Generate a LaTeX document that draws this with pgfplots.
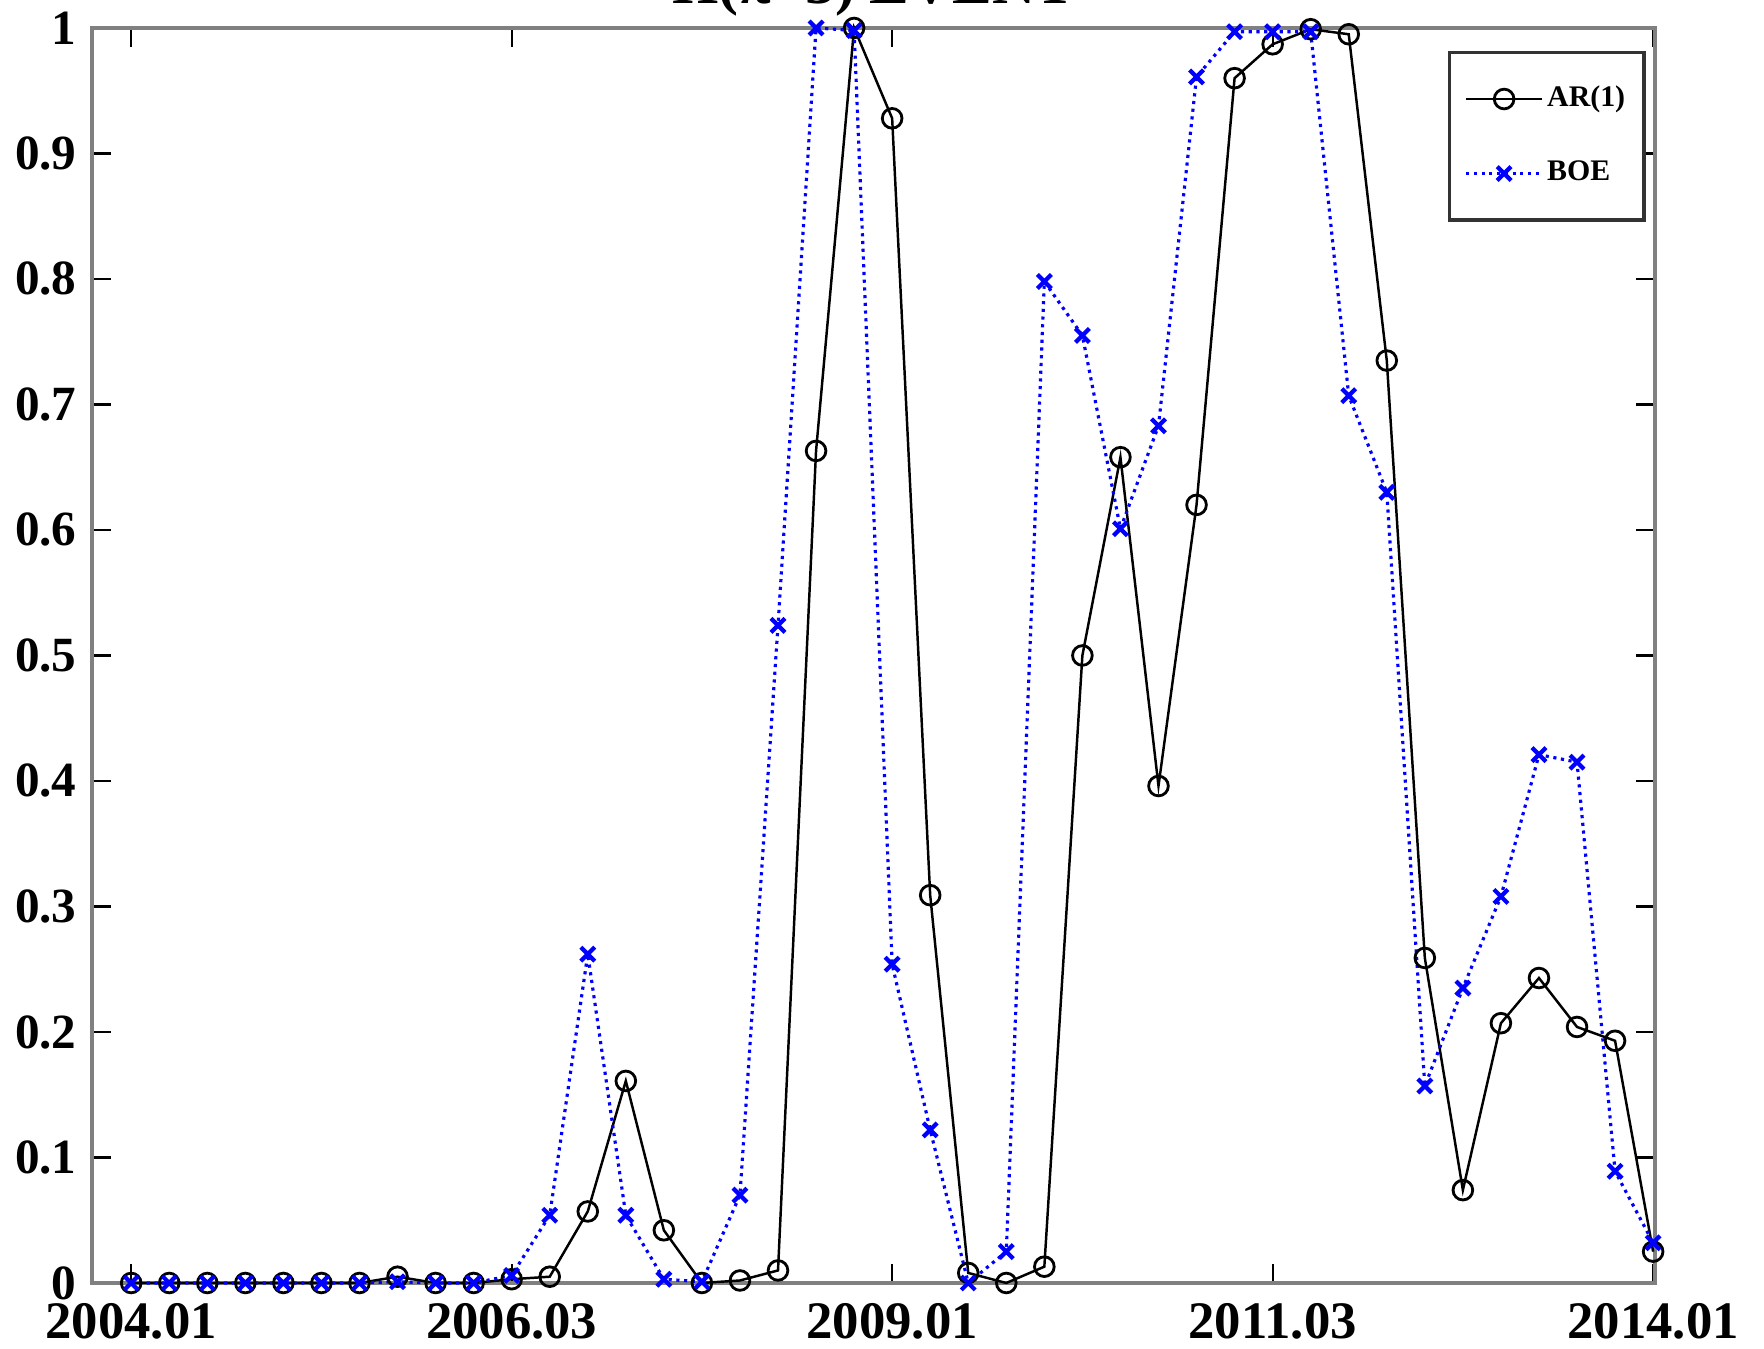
\documentclass[border=0pt]{standalone}
\usepackage{pgfplots}
\usepackage{pgfplotstable}
\pgfplotsset{compat=1.18}
\usepackage{fontspec}
\setmainfont{Liberation Serif}
\pgfplotstableread{
i ar boe
0 0 0
1 0 0
2 0 0
3 0 0
4 0 0
5 0 0
6 0 0
7 0.005 0.001
8 0 0
9 0 0
10 0.003 0.006
11 0.005 0.054
12 0.057 0.262
13 0.161 0.054
14 0.042 0.003
15 0 0.001
16 0.002 0.070
17 0.010 0.524
18 0.663 1.000
19 1.000 0.998
20 0.928 0.254
21 0.309 0.122
22 0.008 0.000
23 0.000 0.025
24 0.013 0.798
25 0.500 0.755
26 0.658 0.601
27 0.396 0.683
28 0.620 0.961
29 0.960 0.997
30 0.987 0.997
31 0.999 0.997
32 0.995 0.707
33 0.735 0.630
34 0.259 0.157
35 0.074 0.235
36 0.207 0.308
37 0.243 0.421
38 0.204 0.415
39 0.193 0.089
40 0.025 0.032
}\data
\begin{document}
\begin{tikzpicture}
\begin{axis}[
  at={(0,0)}, anchor=south west,
  scale only axis, width=15.63cm, height=12.55cm,
  xmin=-1.03, xmax=40.05, ymin=0, ymax=1,
  xtick={0,10,20,30,40},
  xticklabels={2004.01,2006.03,2009.01,2011.03,2014.01},
  ytick={0,0.1,0.2,0.3,0.4,0.5,0.6,0.7,0.8,0.9,1},
  yticklabels={0,0.1,0.2,0.3,0.4,0.5,0.6,0.7,0.8,0.9,1},
  tick align=inside,
  major tick length=1.9mm,
  tick style={black, line width=0.6pt},
  axis line style={draw=gray, line width=0.9pt},
  xticklabel style={font=\bfseries\fontsize{15}{15}\selectfont, yshift=-0.8mm},
  yticklabel style={font=\bfseries\fontsize{14}{14}\selectfont, xshift=-0.3mm},
  clip=false,
  legend style={at={(0.994,0.982)}, anchor=north east, draw=black!80, line width=1.1pt,
    fill=white, inner xsep=0.15cm, inner ysep=0.3cm, row sep=0.42cm,
    font=\bfseries\fontsize{8.5}{9}\selectfont, nodes={inner sep=1pt}},
  legend cell align=left,
  legend image code/.code={\draw[mark repeat=2,mark phase=2,#1] plot coordinates {(0cm,0cm) (0.38cm,0cm) (0.76cm,0cm)};},
]
\addplot[black, line width=0.7pt, mark=o, mark size=2.8pt, mark options={line width=0.8pt, solid}] table[x=i,y=ar]{\data};
\addplot[blue, dash pattern=on 0.9pt off 1.3pt, line width=0.9pt, mark=x, mark size=2.8pt, mark options={solid, line width=1.2pt}] table[x=i,y=boe]{\data};
\legend{AR(1),BOE}
\end{axis}
\node[font=\bfseries\fontsize{17}{17}\selectfont, anchor=base] at (7.82cm,12.79cm) {Π(π>3) EVENT};
\pgfresetboundingbox
\useasboundingbox (-0.92cm,-0.66cm) rectangle (16.72cm,12.83cm);
\end{tikzpicture}
\end{document}
